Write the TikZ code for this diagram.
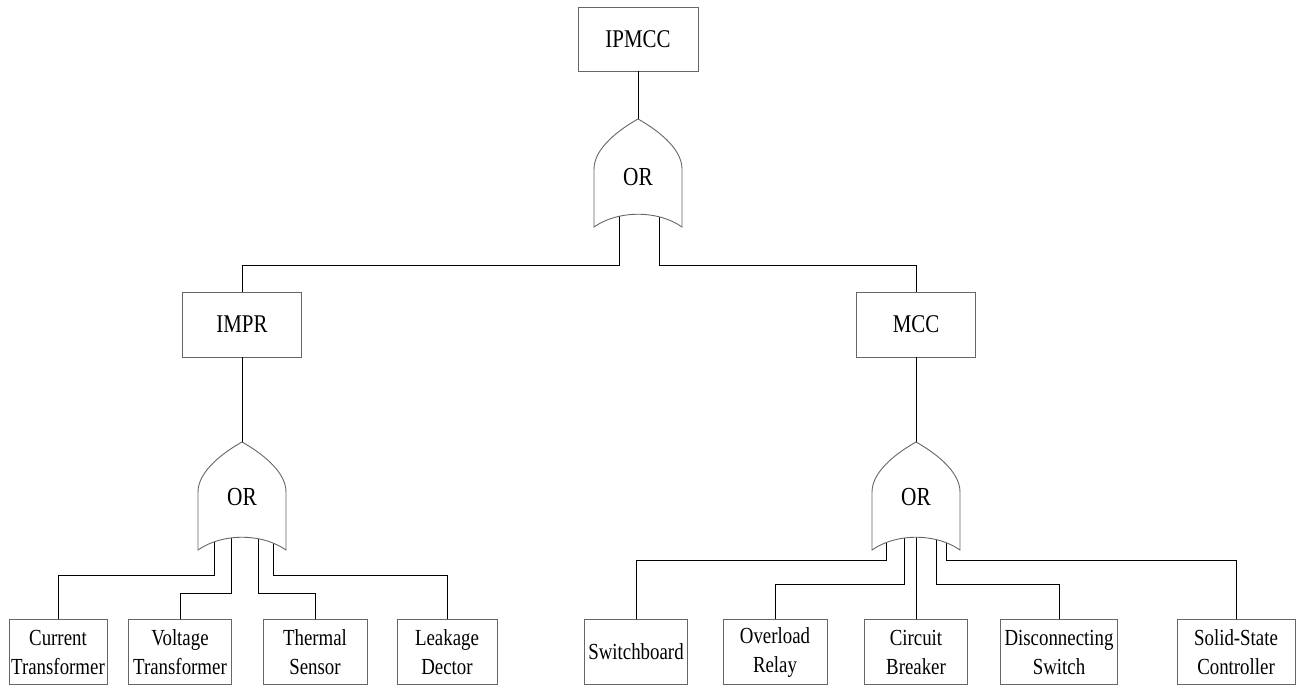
\documentclass[tikz,border=0pt]{standalone}
\usepackage{fontspec}
\setmainfont{Liberation Serif}[FakeStretch=0.82]
\tikzset{
  orgate/.pic={\path[gateline] (-44,50) .. controls (-44,28) and (-16,9) .. (0,0) .. controls (16,9) and (44,28) .. (44,50) -- (44,108) .. controls (20,91) and (-20,91) .. (-44,108) -- cycle;}
}
\begin{document}
\begin{tikzpicture}[x=1pt,y=-1pt,
  box/.style={draw=black!60, line width=0.9pt, fill=white, inner sep=0pt, minimum height=65pt, align=center, font=\fontsize{23}{29}\selectfont},
  topbox/.style={box, font=\fontsize{25.5}{29}\selectfont},
  wire/.style={draw=black, line width=0.9pt},
  gateline/.style={draw=black!60, line width=0.9pt, fill=white},
  gatelabel/.style={font=\fontsize{26}{28}\selectfont, inner sep=0pt}]
\useasboundingbox (0,0) rectangle (1297,685);

% boxes
\node[topbox, minimum width=120pt, minimum height=64pt] (ipmcc) at (638,39) {IPMCC};
\node[topbox, minimum width=119pt] (impr) at (242,324.5) {IMPR};
\node[topbox, minimum width=119pt] (mcc) at (916,324.5) {MCC};

\node[box, minimum width=98pt]  (ct)  at (58,652) {Current\\Transformer};
\node[box, minimum width=103pt] (vt)  at (180,652) {Voltage\\Transformer};
\node[box, minimum width=104pt] (ts)  at (315,652) {Thermal\\Sensor};
\node[box, minimum width=100pt] (ld)  at (447,652) {Leakage\\Dector};

\node[box, minimum width=103pt] (sb)  at (636,652) {Switchboard};
\node[box, minimum width=104pt] (olr) at (775,652) {Overload\\Relay};
\node[box, minimum width=103pt] (cb)  at (916,652) {Circuit\\Breaker};
\node[box, minimum width=117pt] (ds)  at (1059,652) {Disconnecting\\Switch};
\node[box, minimum width=118pt] (ssc) at (1236,652) {Solid-State\\Controller};

% gate reference points
\coordinate (g1top) at (638,119);
\coordinate (g1a) at (619,200);
\coordinate (g1b) at (659,200);
\coordinate (g2top) at (242,442);
\coordinate (g2a) at (214,520);
\coordinate (g2b) at (231,520);
\coordinate (g2c) at (258,520);
\coordinate (g2d) at (273,520);
\coordinate (g3top) at (916,442);
\coordinate (g3a) at (886,520);
\coordinate (g3b) at (904,520);
\coordinate (g3c) at (916,520);
\coordinate (g3d) at (936,520);
\coordinate (g3e) at (946,520);

% wires
\draw[wire] (ipmcc) -- (g1top);
\draw[wire] (g1a) -- (g1a |- 0,265) -| (impr.north);
\draw[wire] (g1b) -- (g1b |- 0,265) -| (mcc.north);

\draw[wire] (impr) -- (g2top);
\draw[wire] (g2a) -- (g2a |- 0,575) -| (ct.north);
\draw[wire] (g2b) -- (g2b |- 0,593) -| (vt.north);
\draw[wire] (g2c) -- (g2c |- 0,593) -| (ts.north);
\draw[wire] (g2d) -- (g2d |- 0,575) -| (ld.north);

\draw[wire] (mcc) -- (g3top);
\draw[wire] (g3a) -- (g3a |- 0,560) -| (sb.north);
\draw[wire] (g3b) -- (g3b |- 0,584) -| (olr.north);
\draw[wire] (g3c) -- (cb.north);
\draw[wire] (g3d) -- (g3d |- 0,584) -| (ds.north);
\draw[wire] (g3e) -- (g3e |- 0,560) -| (ssc.north);

% gates
\pic at (g1top) {orgate};
\pic at (g2top) {orgate};
\pic at (g3top) {orgate};
\node[gatelabel] (g1) at (638,177) {OR};
\node[gatelabel] (g2) at (242,497) {OR};
\node[gatelabel] (g3) at (916,497) {OR};
\end{tikzpicture}
\end{document}
